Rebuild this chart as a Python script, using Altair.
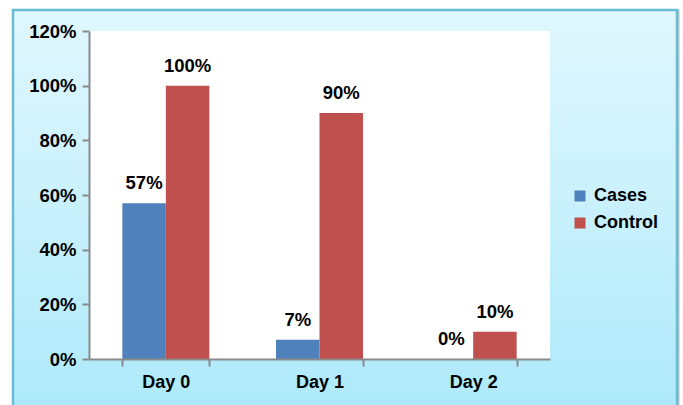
import altair as alt
import pandas as pd

# Share of subjects by day and group
days = ["Day 0", "Day 1", "Day 2"]
cases = [0.57, 0.07, 0.0]
control = [1.00, 0.90, 0.10]
groups = ["Cases", "Control"]
colors = ["#4f81bd", "#c0504d"]
y_ticks = [0, 0.2, 0.4, 0.6, 0.8, 1.0, 1.2]

rows = []
for d, c, k in zip(days, cases, control):
    rows.append({"day": d, "group": "Cases", "value": c})
    rows.append({"day": d, "group": "Control", "value": k})
df = pd.DataFrame(rows)

W, H = 461, 328
FONT = "Liberation Sans"

one = alt.Data(values=[{"k": 1}])

# Outer panel with a light-blue vertical gradient
shadow = alt.Chart(one).mark_rect(
    fill="transparent", stroke="#b8c4c8", strokeWidth=3
).encode(
    x=alt.value(-75), x2=alt.value(589), y=alt.value(-20), y2=alt.value(420)
)
panel = alt.Chart(one).mark_rect(
    fill=alt.Gradient(
        gradient="linear",
        x1=0, x2=0, y1=0, y2=1,
        stops=[
            alt.GradientStop(color="#e0f7fe", offset=0),
            alt.GradientStop(color="#c6f0fc", offset=0.5),
            alt.GradientStop(color="#a8e8fb", offset=1),
        ],
    ),
    stroke="#69bcd2",
    strokeWidth=2.5,
).encode(
    x=alt.value(-76), x2=alt.value(588), y=alt.value(-21), y2=alt.value(420)
)

# White plotting area
plot_bg = alt.Chart(one).mark_rect(fill="white").encode(
    x=alt.value(0), x2=alt.value(W), y=alt.value(0), y2=alt.value(H)
)

x_enc = alt.X(
    "day:N",
    sort=days,
    title=None,
    scale=alt.Scale(paddingInner=0.434, paddingOuter=0.217),
    axis=alt.Axis(
        labelAngle=0,
        labelFont=FONT,
        labelFontSize=18,
        labelFontWeight="bold",
        labelColor="black",
        labelPadding=7,
        tickBand="extent",
        tickSize=7,
        tickColor="#8a8a8a",
        tickWidth=2,
        domainColor="#8a8a8a",
        domainWidth=2,
        zindex=1,
    ),
)
y_enc = alt.Y(
    "value:Q",
    title=None,
    scale=alt.Scale(domain=[0, 1.2], nice=False),
    axis=alt.Axis(
        values=y_ticks,
        format=".0%",
        grid=False,
        labelFont=FONT,
        labelFontSize=18.5,
        labelFontWeight="bold",
        labelColor="black",
        labelPadding=6,
        tickSize=7,
        tickColor="#8a8a8a",
        tickWidth=2,
        domainColor="#8a8a8a",
        domainWidth=2,
        zindex=1,
    ),
)
xoff = alt.XOffset("group:N", sort=groups, scale=alt.Scale(paddingInner=0, paddingOuter=0))

bars = alt.Chart(df).mark_bar().encode(
    x=x_enc,
    xOffset=xoff,
    y=y_enc,
    color=alt.Color(
        "group:N",
        sort=groups,
        scale=alt.Scale(domain=groups, range=colors),
        legend=alt.Legend(
            title=None,
            orient="none",
            legendX=482,
            legendY=156,
            padding=0,
            symbolType="square",
            symbolSize=121,
            symbolStrokeWidth=0,
            labelFont=FONT,
            labelFontSize=18,
            labelFontWeight="bold",
            labelColor="black",
            labelOffset=5,
            rowPadding=9,
        ),
    ),
)

labels = alt.Chart(df).mark_text(
    font=FONT, fontSize=18.5, fontWeight="bold", color="black",
    baseline="alphabetic", dy=-14,
).encode(
    x=alt.X("day:N", sort=days),
    xOffset=alt.XOffset("group:N", sort=groups),
    y="value:Q",
    text=alt.Text("value:Q", format=".0%"),
)

chart = alt.layer(shadow, panel, plot_bg, bars, labels).properties(
    width=W,
    height=H,
    padding={"left": 89, "top": 31, "right": 133, "bottom": 46},
    autosize=alt.AutoSizeParams(type="none"),
    background="white",
).configure_view(stroke=None)

chart.save("out.html", embed_options={"renderer": "svg", "actions": False})
